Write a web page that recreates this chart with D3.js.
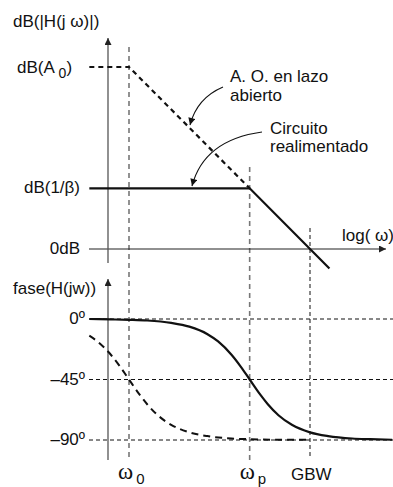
<!DOCTYPE html>
<html>
<head>
<meta charset="utf-8">
<script src="https://cdn.jsdelivr.net/npm/d3@7"></script>
<style>
  html, body { margin: 0; padding: 0; background: #fff; }
  svg { display: block; }
  text { font-family: "Liberation Sans", Arial, Helvetica, sans-serif; font-size: 17px; fill: #111; }
  .greek { font-family: "Liberation Serif", "Times New Roman", serif; }
</style>
</head>
<body>
<svg id="chart" width="393" height="487"></svg>
<script>
// Characteristic frequencies (rad/s, normalised to the open-loop pole)
const omega0 = 1;      // open-loop pole
const omegaP = 100;    // closed-loop pole
const gbw = 1000;      // gain-bandwidth product

// Magnitude asymptotes: [omega, dB]
const openLoopMag = [[0.22, 60], [1, 60], [100, 20]];
const closedLoopMag = [[0.22, 20], [100, 20], [2100, -6.4]];

// dB reference levels shown on the magnitude axis
const dbA0 = 60, dbInvBeta = 20, db0 = 0;

// Phase responses: frequencies and degrees
const closedPhaseW = [0.22, 0.5, 1, 2, 5, 10, 20, 30, 50, 70, 100, 150, 200, 300, 500, 1000, 2000, 5000, 10000, 23000];
const closedPhaseDeg = [0, -0.3, -0.6, -1.1, -2.9, -5.7, -11.3, -16.7, -26.6, -35, -45, -56.3, -63.4, -71.6, -78.7, -84.3, -87.1, -88.9, -89.4, -89.8];
const openPhaseW = [0.22, 0.3, 0.5, 0.7, 1, 1.5, 2, 3, 5, 10, 20, 50, 100, 300, 1000];
const openPhaseDeg = [-12.4, -16.7, -26.6, -35, -45, -56.3, -63.4, -71.6, -78.7, -84.3, -87.1, -88.9, -89.4, -89.8, -89.9];

// Phase gridlines and their labels
const phaseTicks = [0, -45, -90];
const phaseTickLabels = ["0º", "–45º", "–90º"];

const svg = d3.select("#chart");

const x = d3.scaleLog().domain([1, 1000]).range([129, 310]);
const yMag = d3.scaleLinear().domain([0, 60]).range([249, 67]);
const yPh = d3.scaleLinear().domain([0, -90]).range([319, 440]);

const xLeft = 89, xRight = 393;

// Arrowhead markers
const defs = svg.append("defs");
defs.append("marker").attr("id", "axisHead")
  .attr("viewBox", "0 0 10 10").attr("refX", 10).attr("refY", 5)
  .attr("markerWidth", 10).attr("markerHeight", 7).attr("markerUnits", "userSpaceOnUse")
  .attr("orient", "auto")
  .append("path").attr("d", "M0,0 L10,5 L0,10 Z").attr("fill", "#222");
defs.append("marker").attr("id", "noteHead")
  .attr("viewBox", "0 0 10 10").attr("refX", 10).attr("refY", 5)
  .attr("markerWidth", 9).attr("markerHeight", 7).attr("markerUnits", "userSpaceOnUse")
  .attr("orient", "auto")
  .append("path").attr("d", "M0,0 L10,5 L0,10 Z").attr("fill", "#111");

// ---------- Vertical frequency markers ----------
const vmarks = [
  { w: omega0, y1: 47, y2: 460, color: "#777", width: 1.6, dash: "5,4" },
  { w: omegaP, y1: 167, y2: 460, color: "#777", width: 1.6, dash: "5,4" },
  { w: gbw, y1: 228, y2: 458, color: "#111", width: 1, dash: "4,3" }
];
svg.selectAll(".vmark").data(vmarks).join("line")
  .attr("x1", d => x(d.w)).attr("x2", d => x(d.w))
  .attr("y1", d => d.y1).attr("y2", d => d.y2)
  .attr("stroke", d => d.color).attr("stroke-width", d => d.width)
  .attr("stroke-dasharray", d => d.dash);

// ---------- Magnitude plot ----------
// horizontal log(ω) axis at 0 dB
svg.append("line")
  .attr("x1", xLeft).attr("x2", 386)
  .attr("y1", yMag(db0)).attr("y2", yMag(db0))
  .attr("stroke", "#222").attr("stroke-width", 1.2)
  .attr("marker-end", "url(#axisHead)");

// vertical dB axis
svg.append("line")
  .attr("x1", 108).attr("x2", 108).attr("y1", 263).attr("y2", 38)
  .attr("stroke", "#555").attr("stroke-width", 1.3)
  .attr("marker-end", "url(#axisHead)");

const magLine = d3.line().x(d => x(d[0])).y(d => yMag(d[1]));

svg.append("path").datum(openLoopMag)
  .attr("d", magLine).attr("fill", "none")
  .attr("stroke", "#111").attr("stroke-width", 2.2)
  .attr("stroke-dasharray", "5,4");

svg.append("path").datum(closedLoopMag)
  .attr("d", magLine).attr("fill", "none")
  .attr("stroke", "#111").attr("stroke-width", 2.2);

// magnitude labels
svg.append("text").attr("x", 13).attr("y", 27).text("dB(|H(j ω)|)");
const a0 = svg.append("text").attr("x", 17).attr("y", yMag(dbA0) + 6);
a0.append("tspan").text("dB(A ");
a0.append("tspan").attr("dy", 5).attr("font-size", 14).text("0");
a0.append("tspan").attr("dy", -5).text(")");
svg.append("text").attr("x", 80).attr("y", yMag(dbInvBeta) + 5)
  .attr("text-anchor", "end").text("dB(1/β)");
svg.append("text").attr("x", 80).attr("y", yMag(db0) + 5)
  .attr("text-anchor", "end").text("0dB");
svg.append("text").attr("x", 342).attr("y", 241).text("log( ω)");

// annotations
svg.append("text").attr("x", 230).attr("y", 82).text("A. O. en lazo");
svg.append("text").attr("x", 230).attr("y", 101).text("abierto");
svg.append("text").attr("x", 270).attr("y", 134).text("Circuito");
svg.append("text").attr("x", 270).attr("y", 152).text("realimentado");

svg.append("path").attr("d", "M223,87 Q197,98 190,125")
  .attr("fill", "none").attr("stroke", "#111").attr("stroke-width", 1.1)
  .attr("marker-end", "url(#noteHead)");
svg.append("path").attr("d", "M262,132 Q204,140 192,186")
  .attr("fill", "none").attr("stroke", "#111").attr("stroke-width", 1.1)
  .attr("marker-end", "url(#noteHead)");

// ---------- Phase plot ----------
svg.selectAll(".phgrid").data(phaseTicks).join("line")
  .attr("x1", xLeft).attr("x2", xRight)
  .attr("y1", d => yPh(d)).attr("y2", d => yPh(d))
  .attr("stroke", "#111").attr("stroke-width", 1)
  .attr("stroke-dasharray", "4,3");

svg.selectAll(".phlabel").data(phaseTicks).join("text")
  .attr("x", 85).attr("y", d => yPh(d) + 5)
  .attr("text-anchor", "end")
  .text((d, i) => phaseTickLabels[i]);

svg.append("line")
  .attr("x1", 108).attr("x2", 108).attr("y1", 460).attr("y2", 279)
  .attr("stroke", "#555").attr("stroke-width", 1.3)
  .attr("marker-end", "url(#axisHead)");

svg.append("text").attr("x", 13).attr("y", 294).text("fase(H(jw))");

const phLine = d3.line().curve(d3.curveMonotoneX)
  .x(d => x(d[0])).y(d => yPh(d[1]));

svg.append("path").datum(d3.zip(openPhaseW, openPhaseDeg))
  .attr("d", phLine).attr("fill", "none")
  .attr("stroke", "#111").attr("stroke-width", 2)
  .attr("stroke-dasharray", "7,5");

svg.append("path").datum(d3.zip(closedPhaseW, closedPhaseDeg))
  .attr("d", phLine).attr("fill", "none")
  .attr("stroke", "#111").attr("stroke-width", 2.2);

// frequency labels under the phase plot
const w0 = svg.append("text").attr("x", x(omega0) - 11).attr("y", 479);
w0.append("tspan").attr("class", "greek").attr("font-size", 23).text("ω");
w0.append("tspan").attr("dx", 3).attr("dy", 5).attr("font-size", 15).text("0");
const wp = svg.append("text").attr("x", x(omegaP) - 10).attr("y", 479);
wp.append("tspan").attr("class", "greek").attr("font-size", 23).text("ω");
wp.append("tspan").attr("dx", 3).attr("dy", 5).attr("font-size", 15).text("p");
svg.append("text").attr("x", 291).attr("y", 480).text("GBW");
</script>
</body>
</html>
